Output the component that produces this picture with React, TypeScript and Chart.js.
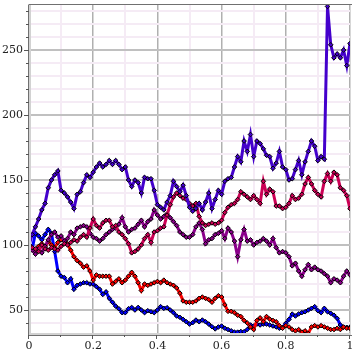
import React, { useEffect, useRef } from "react";
import { Chart, registerables } from "chart.js";

Chart.register(...registerables);

const seriesTop = [100, 108, 114, 120, 127, 132, 144, 150, 154, 157, 142, 140, 137, 133, 128, 139, 141, 148, 154, 152, 156, 160, 163, 160, 162, 165, 162, 165, 162, 158, 160, 150, 145, 150, 148, 140, 152, 151, 151, 142, 131, 129, 127, 133, 138, 149, 145, 141, 146, 138, 129, 126, 128, 132, 127, 133, 140, 128, 135, 142, 139, 149, 151, 152, 160, 168, 164, 180, 172, 185, 168, 180, 178, 174, 169, 168, 159, 163, 172, 160, 158, 150, 151, 158, 165, 154, 164, 172, 180, 176, 165, 168, 166, 283.5, 254, 244, 247, 244, 250, 238, 255];
const seriesCrimson = [100, 98, 97, 95, 100, 97, 96, 98, 97, 96, 99, 101, 100, 102, 104, 103, 106, 108, 106, 113, 120, 115, 113, 117, 119, 119, 114, 115, 110, 108, 105, 101, 94, 95, 97, 100, 105, 108, 102, 110, 111, 113, 114, 123, 131, 137, 140, 138, 136, 135, 132, 130, 132, 122, 117, 115, 116, 117, 116, 117, 119, 125, 129, 131, 132, 135, 141, 139, 137, 135, 138, 135, 132, 149, 139, 143, 141, 130, 130, 128, 129, 132, 138, 135, 136, 139, 147, 152, 147, 142, 139, 137, 149, 155, 149, 156, 154, 144, 142, 138, 128];
const seriesPurple = [100, 96, 93, 97, 94, 99, 104, 108, 110, 106, 107, 103, 105, 110, 108, 113, 114, 115, 114, 109, 106, 105, 103, 105, 108, 110, 112, 113, 116, 121, 114, 110, 112, 113, 116, 119, 114, 118, 120, 127, 123, 120, 122, 124, 121, 118, 115, 110, 108, 106, 106, 108, 114, 117, 112, 101, 104, 105, 108, 109, 111, 105, 113, 110, 103, 91, 104, 112, 103, 104, 100, 102, 103, 105, 103, 100, 105, 98, 94, 95, 94, 91, 84, 86, 80, 76, 81, 85, 81, 83, 81, 80, 78, 76, 71, 74, 73, 71, 76, 80, 77];
const seriesRed = [100, 97, 95, 99, 101, 98, 103, 100, 98, 102, 104, 103, 101, 96, 91, 88, 86, 83, 84, 80, 73, 77, 76, 76, 76, 76, 70, 72, 74, 71, 73, 76, 79, 76, 71, 65, 70, 69, 70, 71, 72, 71, 73, 71, 70, 69, 67, 63, 57, 56, 56, 56, 57, 59, 60, 59, 58, 56, 59, 61, 60, 54, 49, 49, 48, 46, 45, 42, 40, 37, 35, 42, 44, 41, 45, 43, 42, 41, 38, 36, 38, 37, 35, 34, 35, 33, 34, 32, 37, 38, 37, 38, 37, 36, 35, 35, 36, 35, 37, 36, 36];
const seriesBlue = [100, 97, 109, 107, 104, 108, 112, 109, 95, 80, 76, 75, 71, 74, 66, 69, 70, 71, 71, 70, 70, 68, 66, 62, 64, 59, 56, 53, 51, 48, 48, 51, 52, 50, 52, 50, 48, 49.5, 48.7, 48, 50, 52.6, 51.3, 51.8, 50, 48, 45.4, 44.4, 42.8, 41, 39.2, 40.3, 42.3, 41, 42.3, 41, 39.2, 37.2, 35.5, 37, 37.7, 36, 35, 34, 33, 33, 33.5, 33.3, 35, 38.5, 37.7, 39.2, 38.5, 39.2, 39.2, 38.5, 37.7, 37, 36, 36.7, 39.8, 42.8, 46.9, 45.4, 47, 48, 48.7, 50, 51.3, 52.6, 49.5, 48, 51.3, 48.7, 47.5, 46, 43.6, 38.5, 36.7, 36.7, 36.7];

const seriesNames = ["A", "B", "C", "D", "E"];
const seriesColors = ["#4400cc", "#cc0055", "#8b008b", "#ff0000", "#0000ff"];
const yTickLabels = ["50", "100", "150", "200", "250"];
const xTickLabels = ["0", "0.2", "0.4", "0.6", "0.8", "1"];
const Y_MIN = 30.8;
const Y_MAX = 284.6;

const allSeries = [seriesTop, seriesCrimson, seriesPurple, seriesRed, seriesBlue];

const framePlugin = {
  id: "frame",
  afterDraw(chart: any) {
    const { ctx, chartArea } = chart;
    const { left, right, top, bottom } = chartArea;
    const xs = chart.scales.x;
    const ys = chart.scales.y;
    ctx.save();
    ctx.fillStyle = "#d2d2d2";
    ctx.fillRect(left, top, 2, bottom - top);
    ctx.fillRect(left, bottom - 2, right - left, 2);
    ctx.strokeStyle = "#707070";
    ctx.lineWidth = 1;
    ctx.beginPath();
    ctx.moveTo(left - 0.5, top);
    ctx.lineTo(left - 0.5, bottom + 0.5);
    ctx.lineTo(right + 2, bottom + 0.5);
    ctx.moveTo(left - 0.5, top - 0.5);
    ctx.lineTo(right + 2, top - 0.5);
    ctx.stroke();
    ctx.strokeStyle = "#555";
    ctx.beginPath();
    for (let v = 40; v <= 280; v += 10) {
      const py = Math.round(ys.getPixelForValue(v)) + 0.5;
      const len = v % 50 === 0 ? 5 : 3;
      ctx.moveTo(left - len, py);
      ctx.lineTo(left, py);
    }
    for (let i = 0; i <= 10; i++) {
      const px = Math.round(xs.getPixelForValue(i / 10)) - 0.5;
      const len = i % 2 === 0 ? 4 : 2;
      ctx.moveTo(px, bottom);
      ctx.lineTo(px, bottom + len);
    }
    ctx.stroke();
    ctx.restore();
  },
};

export default function App() {
  const ref = useRef<HTMLCanvasElement | null>(null);
  useEffect(() => {
    if (!ref.current) return;
    const datasets = allSeries.map((s, k) => ({
      label: seriesNames[k],
      data: s.map((v, i) => ({ x: i / (s.length - 1), y: v })),
      borderColor: seriesColors[k],
      backgroundColor: seriesColors[k],
      borderWidth: 3,
      tension: 0,
      pointStyle: "rectRot" as const,
      pointRadius: 2.3,
      pointBackgroundColor: seriesColors[k],
      pointBorderColor: "#000000",
      pointBorderWidth: 1,
    }));
    const font = { family: "'DejaVu Serif', serif", size: 11 };
    const chart = new Chart(ref.current, {
      type: "line",
      data: { datasets },
      plugins: [framePlugin],
      options: {
        animation: false,
        responsive: true,
        maintainAspectRatio: false,
        layout: { padding: { top: 5, right: 2, left: 0, bottom: 0 } },
        plugins: { legend: { display: false }, tooltip: { enabled: false } },
        scales: {
          x: {
            type: "linear",
            min: 0,
            max: 1,
            afterBuildTicks: (scale: any) => {
              scale.ticks = Array.from({ length: 11 }, (_, i) => ({ value: i / 10 }));
            },
            afterFit: (scale: any) => {
              scale.height = 20;
              scale.paddingLeft = 0;
              scale.paddingRight = 0;
            },
            ticks: {
              autoSkip: false,
              maxRotation: 0,
              padding: 5,
              color: "#222",
              font,
              callback: (v: any) => {
                const i = Math.round(Number(v) * 10);
                return i % 2 === 0 ? xTickLabels[i / 2] : "";
              },
            },
            grid: {
              drawTicks: false,
              color: (c: any) => (Math.round((c.tick?.value ?? 0) * 10) % 2 === 0 ? "#b0b0b0" : "#f5ebf5"),
              lineWidth: (c: any) => (Math.round((c.tick?.value ?? 0) * 10) % 2 === 0 ? 1.5 : 2),
            },
            border: { display: false },
          },
          y: {
            type: "linear",
            min: Y_MIN,
            max: Y_MAX,
            afterBuildTicks: (scale: any) => {
              const t = [];
              for (let v = 40; v <= 280; v += 10) t.push({ value: v });
              scale.ticks = t;
            },
            afterFit: (scale: any) => {
              scale.width = 29;
              scale.paddingTop = 0;
              scale.paddingBottom = 0;
            },
            ticks: {
              autoSkip: false,
              padding: 6,
              color: "#222",
              font,
              callback: (v: any) => {
                const n = Number(v);
                return n % 50 === 0 ? yTickLabels[n / 50 - 1] : "";
              },
            },
            grid: {
              drawTicks: false,
              color: (c: any) => ((c.tick?.value ?? 0) % 50 === 0 ? "#c0c0c0" : "#f5ebf5"),
              lineWidth: 2,
            },
            border: { display: false },
          },
        },
      },
    });
    return () => chart.destroy();
  }, []);
  return (
    <div style={{ position: "absolute", left: 0, top: 0, width: 355, height: 355, overflow: "hidden", background: "#fff" }}>
      <canvas ref={ref} />
    </div>
  );
}
